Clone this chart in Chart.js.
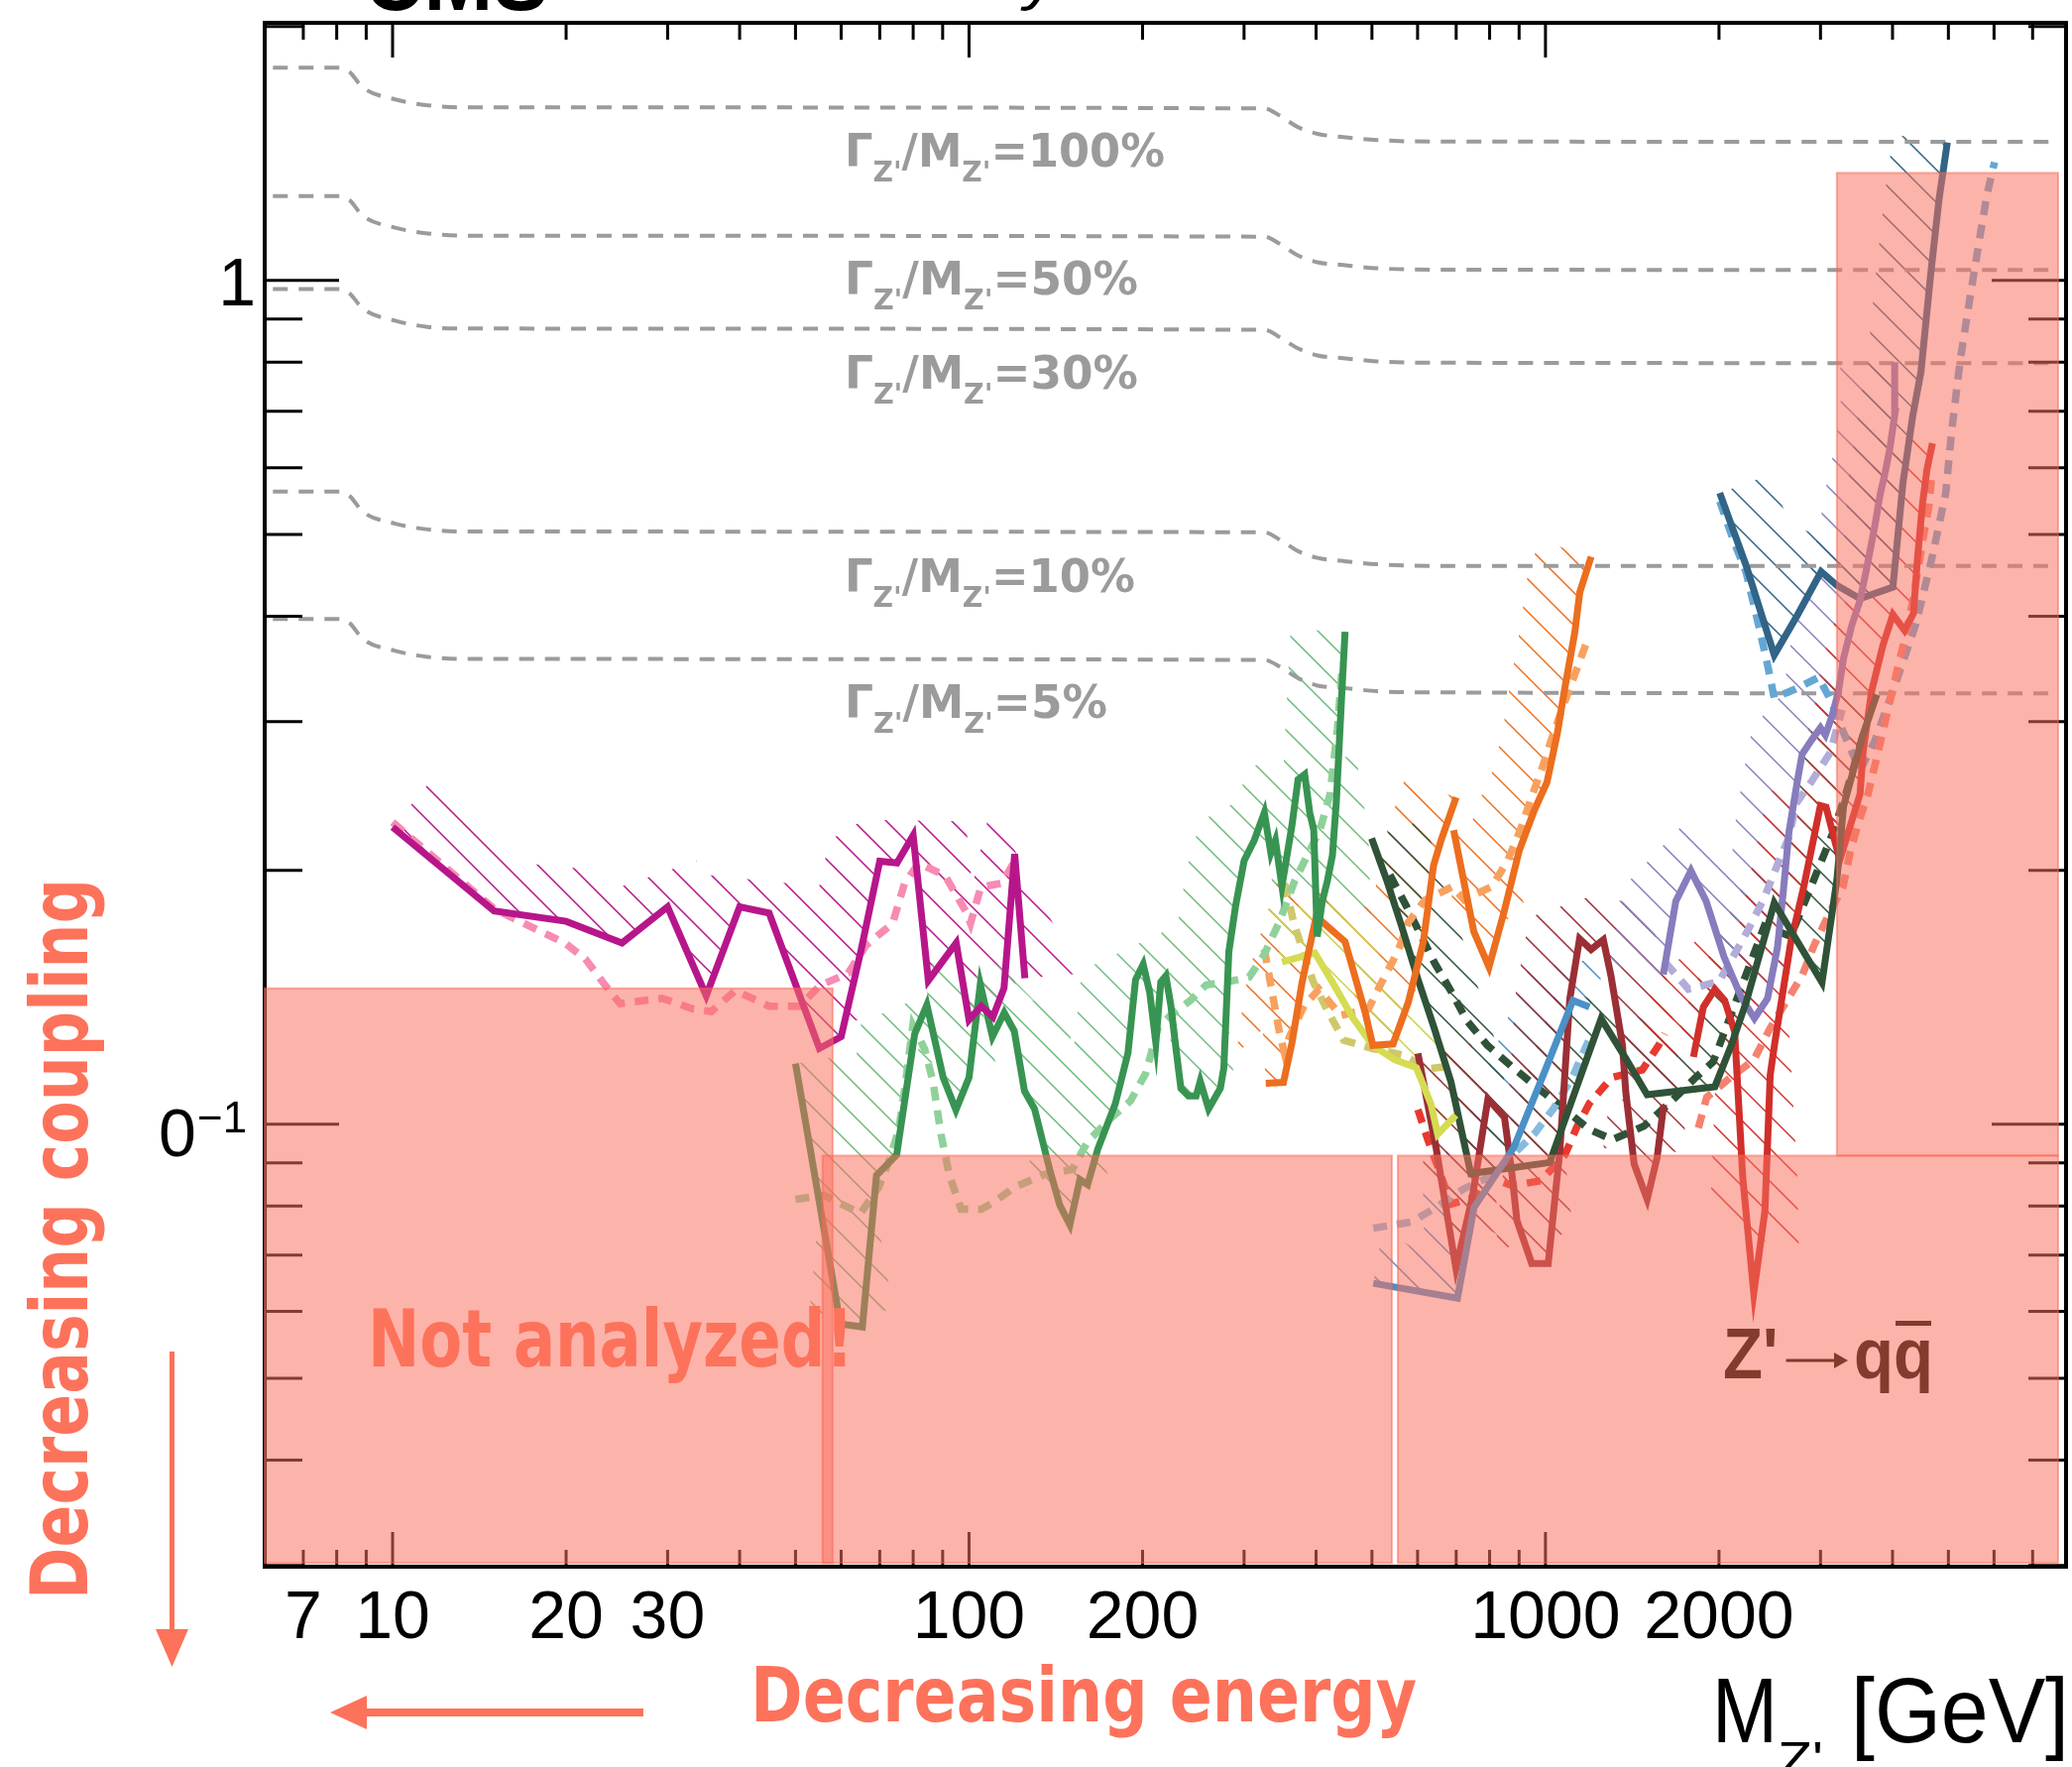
<!DOCTYPE html>
<html>
<head>
<meta charset="utf-8">
<script src="https://cdn.jsdelivr.net/npm/chart.js@4.4.1/dist/chart.umd.min.js"></script>
<style>
  html, body { margin: 0; padding: 0; background: #fff; }
  canvas { display: block; }
</style>
</head>
<body>
<canvas id="c" width="2090" height="1782"></canvas>
<script>
// ---- axis ticks ----
const X_MAJOR = [10, 100, 1000];
const X_MINOR = [7, 8, 9, 20, 30, 40, 50, 60, 70, 80, 90, 200, 300, 400, 500, 600, 700, 800, 900, 2000, 3000, 4000, 5000, 6000, 7000];
const X_LABELS = [7, 10, 20, 30, 100, 200, 1000, 2000];
const Y_MAJOR = [0.1, 1];
const Y_MINOR = [0.03, 0.04, 0.05, 0.06, 0.07, 0.08, 0.09, 0.2, 0.3, 0.4, 0.5, 0.6, 0.7, 0.8, 0.9, 2];

// ---- width lines Gamma/M ----
const widthX = [6.2, 8.08, 8.41, 8.88, 10.1, 11.5, 13.2, 325, 347.5, 371.7, 402.3, 446, 510, 629, 7700];
const width100 = [1.787, 1.787, 1.768, 1.693, 1.639, 1.613, 1.604, 1.599, 1.565, 1.520, 1.492, 1.479, 1.467, 1.461, 1.460];
const width50 = [1.259, 1.259, 1.246, 1.193, 1.155, 1.137, 1.130, 1.127, 1.103, 1.071, 1.051, 1.043, 1.034, 1.030, 1.029];
const width30 = [0.977, 0.977, 0.966, 0.926, 0.896, 0.881, 0.877, 0.874, 0.855, 0.831, 0.815, 0.809, 0.802, 0.799, 0.798];
const width10 = [0.562, 0.562, 0.556, 0.532, 0.515, 0.507, 0.504, 0.503, 0.492, 0.478, 0.469, 0.465, 0.461, 0.459, 0.459];
const width5 = [0.397, 0.397, 0.393, 0.376, 0.364, 0.358, 0.356, 0.355, 0.348, 0.338, 0.331, 0.329, 0.326, 0.325, 0.324];
const widthLabels = ['100%', '50%', '30%', '10%', '5%'];

// ---- limits ----
const magentaX = [10, 15, 20, 25, 30, 35, 40, 45, 55, 60, 65, 70, 75, 80, 85, 95, 100, 105, 110, 115, 120, 125];
const magentaY = [0.225, 0.179, 0.174, 0.164, 0.181, 0.142, 0.181, 0.178, 0.123, 0.127, 0.161, 0.205, 0.204, 0.220, 0.148, 0.164, 0.133, 0.138, 0.134, 0.145, 0.209, 0.149];
const pinkX = [10, 15, 17.2, 19.9, 21.6, 23.4, 24.8, 29.4, 33.2, 35.7, 39.3, 45, 50.8, 55.1, 61.7, 66.3, 73.7, 77.3, 81.8, 90.9, 98.6, 100.6, 104.8, 114, 121];
const pinkY = [0.228, 0.180, 0.172, 0.164, 0.157, 0.146, 0.139, 0.141, 0.137, 0.136, 0.144, 0.138, 0.138, 0.146, 0.151, 0.163, 0.173, 0.193, 0.204, 0.197, 0.179, 0.173, 0.191, 0.193, 0.207];

const greenX = [50, 59.8, 65.3, 69.1, 74.9, 76.1, 80.5, 84.5, 90.2, 94.9, 100, 104.6, 109.8, 115.1, 119.8, 124.8, 129.9, 138, 143.7, 149.6, 155.7, 160.6, 167.2, 179.4, 188.7, 194.5, 200.5, 205.8, 210.9, 215.1, 219.5, 223.9, 228.5, 233.1, 240.3, 247.7, 251.8, 260.4, 272.9, 276.7, 282.3, 290, 300.1, 312.4, 325.3, 333.9, 340, 349, 363.3, 372.2, 382.2, 390, 396.3, 401.8, 410.1, 418.4, 427, 433.9, 442.8, 449.1];
const greenY = [0.118, 0.058, 0.0575, 0.087, 0.092, 0.099, 0.128, 0.1385, 0.1136, 0.104, 0.1136, 0.1464, 0.127, 0.1356, 0.129, 0.1095, 0.1043, 0.0884, 0.0802, 0.076, 0.086, 0.0848, 0.0934, 0.1058, 0.1215, 0.1484, 0.1547, 0.1433, 0.1249, 0.1474, 0.1499, 0.1384, 0.1231, 0.1103, 0.108, 0.108, 0.1125, 0.1043, 0.1103, 0.1166, 0.1601, 0.1813, 0.2053, 0.217, 0.2341, 0.2096, 0.217, 0.1915, 0.2262, 0.2562, 0.2598, 0.2341, 0.2231, 0.1669, 0.1838, 0.1942, 0.2082, 0.2423, 0.3193, 0.3834];
const lgreenX = [50, 56, 59.8, 64.8, 69.7, 72.5, 75.5, 77.3, 79.9, 83.8, 86.6, 89.4, 92.4, 96.9, 105, 111.2, 119.8, 135.2, 151.1, 160.6, 175.8, 190.6, 202.5, 212.9, 223.9, 242.7, 257.9, 279.5, 306.2, 325.3, 345.6, 367.1, 386.1, 406.1, 422.8, 435.6, 444.5];
const lgreenY = [0.0815, 0.0824, 0.0806, 0.0784, 0.0842, 0.0901, 0.0984, 0.1098, 0.131, 0.1227, 0.1123, 0.0973, 0.0871, 0.0793, 0.0793, 0.0811, 0.0842, 0.0872, 0.0884, 0.0954, 0.1015, 0.1066, 0.1149, 0.1302, 0.1347, 0.1404, 0.1463, 0.1474, 0.1494, 0.159, 0.1739, 0.1942, 0.2082, 0.2231, 0.2457, 0.2939, 0.3518];

const orangeAX = [327.2, 351.1, 363.3, 378.3, 400.2, 449.1, 486.8, 501.8, 544, 578, 614, 639.4, 658.9, 699.8];
const orangeAY = [0.1118, 0.1121, 0.1249, 0.1474, 0.1763, 0.1646, 0.1356, 0.124, 0.1245, 0.1394, 0.1646, 0.2025, 0.217, 0.244];
const orangeBX = [693, 751, 798, 848, 900.5, 956.7, 1006, 1048, 1080, 1124, 1147, 1200];
const orangeBY = [0.2231, 0.1692, 0.1536, 0.1788, 0.2111, 0.2357, 0.2543, 0.29, 0.3284, 0.3823, 0.4271, 0.4705];
const lorangeX = [325.3, 345.6, 352.5, 359.5, 381.3, 404.6, 440.9, 493, 519.8, 555.1, 577.6, 617.1, 690, 722.6, 808, 860.1, 904, 946.6, 988.6, 1028.5, 1073, 1182];
const lorangeY = [0.1612, 0.1284, 0.1215, 0.1269, 0.1382, 0.1446, 0.1346, 0.137, 0.1473, 0.1605, 0.1733, 0.1842, 0.1913, 0.1845, 0.1913, 0.2056, 0.2231, 0.2446, 0.2653, 0.2884, 0.3129, 0.3746];

const yellowX = [349, 398, 427, 462.8, 501.8, 548, 597, 633.4, 650.2, 699.3];
const yellowY = [0.1557, 0.1596, 0.1474, 0.1338, 0.124, 0.1192, 0.1167, 0.1055, 0.0973, 0.1025];
const oliveX = [352.5, 366.6, 395.3, 420, 446.7, 500, 566, 625, 690];
const oliveY = [0.193, 0.1725, 0.1476, 0.1358, 0.1258, 0.123, 0.1208, 0.1163, 0.1173];

const dgreenX = [499.4, 530, 562.8, 600.8, 641.6, 685.5, 742, 1017, 1249, 1378, 1501, 1967, 2101, 2229, 2494, 3018, 3203, 3289, 3558, 3756];
const dgreenY = [0.2182, 0.1949, 0.1717, 0.1486, 0.1298, 0.1123, 0.0874, 0.0901, 0.1334, 0.1197, 0.1084, 0.1108, 0.1241, 0.1395, 0.183, 0.1473, 0.1949, 0.238, 0.29, 0.323];
const dgreenExpX = [537.2, 573.8, 641.6, 690.1, 730.3, 792.5, 874.7, 971.9, 1192, 1307, 1482, 1640, 1817, 1954, 2397, 2663, 3141, 3305, 3560];
const dgreenExpY = [0.1975, 0.1813, 0.1555, 0.1427, 0.1327, 0.1241, 0.117, 0.1103, 0.0986, 0.0959, 0.0995, 0.1059, 0.1134, 0.1186, 0.1717, 0.167, 0.2201, 0.244, 0.29];

const blueX = [502.7, 703.6, 751.8, 880.8, 991.3, 1116, 1192];
const blueY = [0.0648, 0.0622, 0.0797, 0.0938, 0.1144, 0.1402, 0.1377];
const lblueX = [502.7, 585.4, 646, 722.6, 808, 959.4, 1034, 1113, 1190];
const lblueY = [0.0753, 0.0766, 0.0797, 0.0839, 0.0869, 0.0977, 0.1045, 0.1136, 0.126];

const dredX = [600.8, 646, 699.3, 746.6, 794.7, 849, 874.7, 892.2, 946.6, 1011, 1059, 1102, 1146, 1200, 1260, 1299, 1360, 1378, 1425, 1501, 1562, 1604];
const dredY = [0.1213, 0.0938, 0.0675, 0.0819, 0.1072, 0.1019, 0.0873, 0.0769, 0.0684, 0.0684, 0.0929, 0.1408, 0.1659, 0.1611, 0.1654, 0.15, 0.1241, 0.1093, 0.0897, 0.0815, 0.0913, 0.1055];
const redExpX = [600.8, 625, 654.6, 685.5, 751.8, 792.5, 874.7, 980.8, 1080, 1131, 1192, 1304, 1472, 1572, 1610];
const redExpY = [0.1041, 0.0959, 0.088, 0.0804, 0.0819, 0.0867, 0.0846, 0.0857, 0.0919, 0.0989, 0.1059, 0.1136, 0.116, 0.1241, 0.128];

const redX = [1806, 1879, 1967, 2046, 2129, 2199, 2298, 2403, 2454, 2500, 2663, 2805, 2999, 3068, 3240, 3513, 3558, 3679, 3851, 4006, 4197, 4348, 4423, 4511, 4589, 4692];
const redY = [0.1202, 0.1377, 0.1446, 0.1402, 0.1287, 0.0865, 0.0631, 0.079, 0.1144, 0.125, 0.164, 0.191, 0.2386, 0.2375, 0.2056, 0.2463, 0.277, 0.326, 0.3698, 0.4018, 0.385, 0.4029, 0.4719, 0.5452, 0.5966, 0.6413];
const salmonX = [1842, 1904, 2087, 2298, 2454, 2628, 2788, 2921, 3097, 3281, 3378, 3488, 3620, 3756, 3924, 4090, 4226, 4348, 4523, 4625, 4670];
const salmonY = [0.099, 0.1076, 0.1134, 0.1192, 0.13, 0.1405, 0.15, 0.1627, 0.177, 0.191, 0.21, 0.2275, 0.245, 0.272, 0.309, 0.349, 0.382, 0.421, 0.496, 0.54, 0.58];

const purpleX = [1601, 1683, 1788, 1900, 2040, 2188, 2304, 2428, 2526, 2584, 2645, 2735, 2788, 2901, 2999, 3059, 3141, 3224, 3289, 3400, 3513, 3606, 3727, 3811, 3877, 3954, 4045, 4035];
const purpleY = [0.1505, 0.1838, 0.1997, 0.1838, 0.158, 0.1413, 0.1335, 0.141, 0.162, 0.188, 0.222, 0.255, 0.2746, 0.2859, 0.2951, 0.2892, 0.3046, 0.326, 0.3566, 0.3904, 0.4177, 0.4551, 0.5118, 0.56, 0.5885, 0.63, 0.70, 0.80];
const lavenderX = [1614, 1770, 2000, 2138, 2249, 2397, 2533, 2645, 2722, 2901, 3119, 3270];
const lavenderY = [0.1555, 0.1446, 0.1476, 0.16, 0.1702, 0.1856, 0.204, 0.219, 0.24, 0.2554, 0.2758, 0.31];

const dblueX = [2006, 2229, 2494, 2735, 3007, 3203, 3513, 4006, 4169, 4335, 4482, 4662, 4818, 4979];
const dblueY = [0.56, 0.4592, 0.3599, 0.4011, 0.4518, 0.4351, 0.4197, 0.4331, 0.575, 0.69, 0.78, 1.022, 1.25, 1.457];
const sblueX = [2006, 2115, 2229, 2350, 2428, 2494, 2699, 2979, 3141, 3289, 3513, 3727, 4061, 4395, 4692, 4948, 5068, 5244, 5462, 5682, 5834, 6012];
const sblueY = [0.5476, 0.4935, 0.4509, 0.387, 0.3503, 0.3201, 0.3274, 0.3385, 0.3158, 0.2912, 0.2624, 0.2847, 0.3348, 0.3922, 0.4719, 0.56, 0.665, 0.806, 0.963, 1.136, 1.264, 1.381];

// ---- not analyzed boxes ----
const boxX0 = [6, 55.7, 554.5, 3203];
const boxX1 = [58.0, 541.4, 7750, 7750];
const boxY0 = [0.0302, 0.0302, 0.0302, 0.0918];
const boxY1 = [0.1449, 0.0918, 0.0918, 1.341];

const NARROW = '"Liberation Sans Narrow", "DejaVu Sans Condensed", "Liberation Sans", sans-serif';
const SANS = '"Liberation Sans", Arial, sans-serif';
const BOLDC = '"DejaVu Sans", "Open Sans", sans-serif';
const SALMON = '#fd725a';
const HATCH_W = 55;

const pts = (xs, ys) => xs.slice(0, Math.min(xs.length, ys.length)).map((x, i) => ({x: x, y: ys[i]}));

function solid(data, color, hatchColor) {
  return {data: data, borderColor: color, borderWidth: 7, pointRadius: 0, tension: 0,
    borderJoinStyle: 'miter', hatch: hatchColor || color, order: 1};
}
function dashed(data, color) {
  return {data: data, borderColor: color, borderWidth: 7.5, pointRadius: 0, tension: 0,
    borderDash: [14, 10], order: 2};
}
function widthLine(data) {
  return {data: data, borderColor: '#9b9b9b', borderWidth: 4, pointRadius: 0,
    cubicInterpolationMode: 'monotone', borderDash: [15, 11], order: 5};
}

const datasets = [
  widthLine(pts(widthX, width100)), widthLine(pts(widthX, width50)), widthLine(pts(widthX, width30)),
  widthLine(pts(widthX, width10)), widthLine(pts(widthX, width5)),
  dashed(pts(pinkX, pinkY), '#f78bb3'),
  solid(pts(magentaX, magentaY), '#b7168b'),
  dashed(pts(lgreenX, lgreenY), '#8fd19a'),
  solid(pts(greenX, greenY), '#389452', '#6cbb7c'),
  dashed(pts(lorangeX, lorangeY), '#f8a15f'),
  solid(pts(orangeAX, orangeAY), '#ec6e1e'),
  solid(pts(orangeBX, orangeBY), '#ec6e1e'),
  dashed(pts(oliveX, oliveY), '#cfc86a'),
  solid(pts(yellowX, yellowY), '#d5dc52', '#c9d13f'),
  dashed(pts(lblueX, lblueY), '#86bbdf'),
  solid(pts(blueX, blueY), '#4a91c7'),
  dashed(pts(dgreenExpX, dgreenExpY), '#2f5238'),
  solid(pts(dgreenX, dgreenY), '#2f5238'),
  dashed(pts(redExpX, redExpY), '#e8392f'),
  solid(pts(dredX, dredY), '#9b2f35'),
  dashed(pts(lavenderX, lavenderY), '#b1acd8'),
  solid(pts(purpleX, purpleY), '#877cbd'),
  dashed(pts(salmonX, salmonY), '#f4826e'),
  solid(pts(redX, redY), '#d12f2a'),
  dashed(pts(sblueX, sblueY), '#65a7d3'),
  solid(pts(dblueX, dblueY), '#316486')
];

// text helper: parts drawn in a row, squeezed to a target width
function rich(ctx, parts, x, y, w, color) {
  let total = 0;
  parts.forEach(p => { ctx.font = p.f; p.w = p.gap || ctx.measureText(p.t).width; total += p.w; });
  const k = w ? w / total : 1;
  ctx.save();
  ctx.translate(x, y); ctx.scale(k, 1);
  ctx.fillStyle = color; ctx.textAlign = 'left'; ctx.textBaseline = 'alphabetic';
  let cx = 0;
  parts.forEach(p => { ctx.font = p.f; p.x0 = x + cx * k; if (!p.gap) ctx.fillText(p.t, cx, p.dy || 0); cx += p.w; p.x1 = x + cx * k; });
  ctx.restore();
  return parts;
}

function drawHatch(chart, meta, color) {
  const ctx = chart.ctx, a = chart.chartArea;
  const p = meta.data.map(e => ({x: e.x, y: e.y}));
  if (p.length < 2) return;
  const off = p.map((q, k) => {
    const p0 = p[Math.max(k - 1, 0)], p1 = p[Math.min(k + 1, p.length - 1)];
    const dx = p1.x - p0.x, dy = p1.y - p0.y, L = Math.hypot(dx, dy) || 1;
    return {x: q.x + HATCH_W * dy / L, y: q.y - HATCH_W * dx / L};
  });
  ctx.save();
  ctx.beginPath(); ctx.rect(a.left, a.top, a.right - a.left, a.bottom - a.top); ctx.clip();
  ctx.beginPath();
  p.forEach((q, k) => k ? ctx.lineTo(q.x, q.y) : ctx.moveTo(q.x, q.y));
  for (let k = off.length - 1; k >= 0; k--) ctx.lineTo(off[k].x, off[k].y);
  ctx.closePath(); ctx.clip();
  ctx.strokeStyle = color; ctx.lineWidth = 1.5;
  ctx.beginPath();
  for (let c = Math.floor((a.left - a.bottom) / 33) * 33; c < a.right - a.top; c += 33) {
    ctx.moveTo(c + a.top, a.top); ctx.lineTo(c + a.bottom, a.bottom);
  }
  ctx.stroke();
  ctx.restore();
}

const deco = {
  id: 'deco',
  beforeDatasetsDraw(chart) {
    chart.data.datasets.forEach((ds, i) => { if (ds.hatch) drawHatch(chart, chart.getDatasetMeta(i), ds.hatch); });
  },
  afterDatasetsDraw(chart) {
    const ctx = chart.ctx, a = chart.chartArea, xs = chart.scales.x, ys = chart.scales.y;

    // width labels
    const labY = [168, 297, 392, 597, 724];
    const labW = [323, 296, 296, 293, 265];
    widthLabels.forEach((t, i) => {
      const big = 'bold 46px ' + NARROW, sm = 'bold 29px ' + NARROW;
      rich(ctx, [{t: '\u0393', f: big}, {t: "Z'", f: sm, dy: 15}, {t: '/M', f: big}, {t: "Z'", f: sm, dy: 15}, {t: '=' + t, f: big}],
        852, labY[i], labW[i], '#9b9b9b');
    });

    // frame and ticks
    ctx.save();
    ctx.strokeStyle = '#000'; ctx.lineWidth = 3;
    ctx.beginPath();
    X_MAJOR.concat(X_MINOR).forEach(v => {
      const px = xs.getPixelForValue(v), L = X_MAJOR.includes(v) ? 35 : 17;
      ctx.moveTo(px, a.bottom); ctx.lineTo(px, a.bottom - L);
      ctx.moveTo(px, a.top); ctx.lineTo(px, a.top + L);
    });
    Y_MAJOR.concat(Y_MINOR).forEach(v => {
      const py = ys.getPixelForValue(v), L = Y_MAJOR.includes(v) ? 75 : 38;
      ctx.moveTo(a.left, py); ctx.lineTo(a.left + L, py);
      ctx.moveTo(a.right, py); ctx.lineTo(a.right - L, py);
    });
    ctx.stroke();
    ctx.lineWidth = 4;
    ctx.strokeRect(a.left, a.top, a.right - a.left, a.bottom - a.top);
    ctx.restore();

    // not analyzed regions
    ctx.save();
    boxX0.forEach((x0, i) => {
      const l = xs.getPixelForValue(x0), r = xs.getPixelForValue(boxX1[i]);
      const t = ys.getPixelForValue(boxY1[i]), b = ys.getPixelForValue(boxY0[i]);
      ctx.fillStyle = 'rgba(250,112,95,0.53)';
      ctx.fillRect(l, t, r - l, b - t);
      ctx.strokeStyle = 'rgba(250,100,80,0.5)'; ctx.lineWidth = 2;
      ctx.strokeRect(l, t, r - l, b - t);
    });
    ctx.restore();

    // tick labels
    ctx.save();
    ctx.fillStyle = '#000'; ctx.textBaseline = 'alphabetic';
    ctx.font = '68px ' + SANS; ctx.textAlign = 'center';
    X_LABELS.forEach(v => ctx.fillText(String(v), xs.getPixelForValue(v), 1652));
    ctx.textAlign = 'right';
    ctx.fillText('1', 258, ys.getPixelForValue(1) + 25);
    ctx.textAlign = 'left';
    ctx.fillText('0', 160, 1166);
    ctx.font = '44px ' + SANS;
    ctx.fillText('\u22121', 199, 1142);
    ctx.restore();

    // axis title
    rich(ctx, [{t: 'M', f: '92px ' + SANS}], 1727, 1757, 66, '#000');
    rich(ctx, [{t: "Z'", f: '50px ' + SANS}], 1793, 1792, 46, '#000');
    rich(ctx, [{t: '[GeV]', f: '92px ' + SANS}], 1867, 1757, 220, '#000');

    // annotations
    rich(ctx, [{t: 'Not analyzed!', f: 'bold 80px ' + BOLDC}], 371, 1378, 490, SALMON);
    const ZQ = '#843a2c';
    const zq = rich(ctx, [{t: "Z'", f: 'bold 72px ' + SANS}, {t: '', gap: 84, f: 'bold 72px ' + SANS},
      {t: 'q', f: 'bold 72px ' + SANS}, {t: 'q', f: 'bold 72px ' + SANS}], 1738, 1390, 212, ZQ);
    ctx.save();
    ctx.fillStyle = ZQ; ctx.strokeStyle = ZQ; ctx.lineWidth = 3;
    const ax0 = zq[1].x0 + 8, ax1 = zq[1].x1 - 6, ay = 1372;
    ctx.beginPath(); ctx.moveTo(ax0, ay); ctx.lineTo(ax1 - 8, ay); ctx.stroke();
    ctx.beginPath(); ctx.moveTo(ax1, ay); ctx.lineTo(ax1 - 14, ay - 8); ctx.lineTo(ax1 - 14, ay + 8); ctx.closePath(); ctx.fill();
    ctx.fillRect(zq[3].x0 + 2, 1390 - 58, zq[3].x1 - zq[3].x0 - 4, 5);
    ctx.restore();

    rich(ctx, [{t: 'Decreasing energy', f: 'bold 76px ' + BOLDC}], 757, 1736, 672, SALMON);
    ctx.save();
    ctx.translate(88, 1613); ctx.rotate(-Math.PI / 2);
    rich(ctx, [{t: 'Decreasing coupling', f: 'bold 80px ' + BOLDC}], 0, 0, 727, SALMON);
    ctx.restore();

    // arrows
    ctx.save();
    ctx.fillStyle = SALMON;
    ctx.fillRect(362, 1723, 649 - 362, 8);
    ctx.beginPath(); ctx.moveTo(333, 1727); ctx.lineTo(370, 1710); ctx.lineTo(370, 1744); ctx.closePath(); ctx.fill();
    ctx.fillRect(171, 1363, 5, 1648 - 1363);
    ctx.beginPath(); ctx.moveTo(173.5, 1681); ctx.lineTo(157, 1643); ctx.lineTo(190, 1643); ctx.closePath(); ctx.fill();
    ctx.restore();

    // clipped heading at the top edge
    ctx.save();
    rich(ctx, [{t: 'CMS', f: 'bold 90px ' + SANS}], 367, 10, 186, '#000');
    rich(ctx, [{t: 'Preliminary', f: 'italic 62px ' + SANS}], 730, -2, 337, '#000');
    ctx.restore();
  }
};

new Chart(document.getElementById('c'), {
  type: 'line',
  data: {datasets: datasets},
  options: {
    responsive: false,
    devicePixelRatio: 1,
    animation: false,
    layout: {padding: {left: 267, right: 6, top: 23, bottom: 202}},
    plugins: {legend: {display: false}, tooltip: {enabled: false}},
    scales: {
      x: {type: 'logarithmic', min: 6, max: 8000, display: false},
      y: {type: 'logarithmic', min: 0.0299, max: 2.02, display: false}
    }
  },
  plugins: [deco]
});
</script>
</body>
</html>
